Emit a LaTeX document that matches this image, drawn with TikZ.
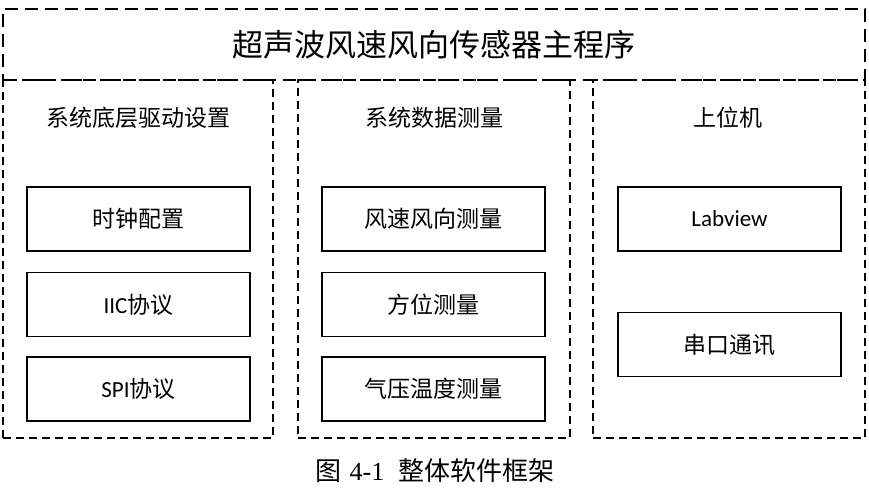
\documentclass[tikz,border=0pt]{standalone}
\usepackage{fontspec}
\setmainfont{Liberation Serif}
\newfontfamily\cjk{Noto Sans CJK SC}
\newfontfamily\calfont{Carlito}
\usetikzlibrary{positioning}

\begin{document}
\begin{tikzpicture}
[x=1pt,y=-1pt,
 cell/.style={draw,line width=1.3pt,minimum width=223pt,minimum height=64pt,
   font=\fontsize{23}{26}\selectfont\cjk},
 col/.style={draw,line width=1.3pt,dash pattern=on 8pt off 5pt,
   minimum width=#1,minimum height=358pt},
 head/.style={font=\fontsize{23}{26}\selectfont\cjk}]
\useasboundingbox (0,0) rectangle (869,501);
% title frame
\node[draw,line width=1.3pt,dash pattern=on 13pt off 7pt,minimum width=862pt,
  minimum height=71pt,font=\fontsize{31}{34}\selectfont\cjk]
  (main) at (434,44.5) {超声波风速风向传感器主程序};
% three columns
\node[col=270pt] (drv) at (138,259) {};
\node[col=272pt] (meas) at (434,259) {};
\node[col=272pt] (host) at (729,259) {};
\node[head] (drvT) at (138,118) {系统底层驱动设置};
\node[head] (measT) at (434,118) {系统数据测量};
\node[head] (hostT) at (728,118) {上位机};
% left
\node[cell] (clk) at (138.5,219) {时钟配置};
\node[cell] (iic) at (138.5,304.5) {{\calfont IIC}协议};
\node[cell] (spi) at (138.5,389) {{\calfont SPI}协议};
% middle
\node[cell] (wind) at (433.5,219) {风速风向测量};
\node[cell] (dir) at (433.5,304.5) {方位测量};
\node[cell] (temp) at (433.5,389) {气压温度测量};
% right
\node[cell] (lv) at (729.5,219) {\calfont Labview};
\node[cell] (uart) at (729.5,344.5) {串口通讯};
% caption
\node[font=\fontsize{26}{29}\selectfont] (cap) at (435,471)
  {{\cjk 图}\hspace{8pt}4-1\hspace{14pt}{\cjk 整体软件框架}};
\end{tikzpicture}
\end{document}
